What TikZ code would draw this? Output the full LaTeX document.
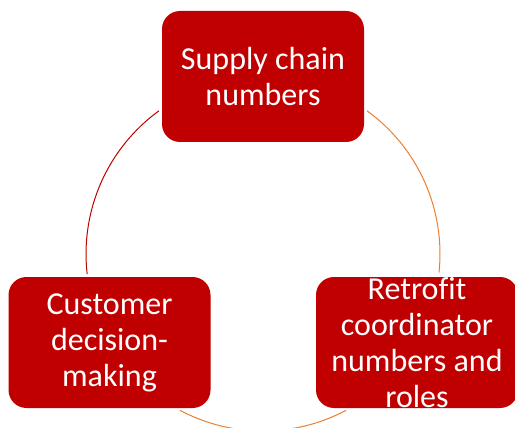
\documentclass[tikz,border=0pt]{standalone}
\usepackage{fontspec}
\setmainfont{Carlito}
\definecolor{boxred}{HTML}{C00000}
\definecolor{ringorange}{HTML}{ED7D31}

\begin{document}
\begin{tikzpicture}[x=1pt,y=1pt,
  cell/.style = {fill=boxred, text=white, align=center, rounded corners=18pt,
    minimum width=202pt, minimum height=131pt, inner xsep=4pt,
    font=\fontsize{32}{36}\selectfont},
  ring/.style = {line width=1pt}]
\useasboundingbox (0,0) rectangle (515,-428);
\coordinate (hub) at (263,-254);
% arcs of the cycle, drawn first so the boxes sit on top
\draw[ring, boxred] ([shift={(126:177)}]hub) arc[start angle=126, end angle=186.5, radius=177];
\draw[ring, ringorange] ([shift={(54:177)}]hub) arc[start angle=54, end angle=-6, radius=177];
\draw[ring, ringorange] ([shift={(-118:177)}]hub) arc[start angle=-118, end angle=-62, radius=177];
% the three stages
\node[cell] (supply) at (263,-76.5) {Supply chain\\numbers};
\node[cell] (customer) at (109.5,-342.5) {Customer\\decision-\\making};
\node[cell, inner ysep=-8pt, font=\fontsize{32}{36}\selectfont\addfontfeatures{Ligatures=CommonOff}] (retrofit) at (417,-342.5) {Retrofit\\coordinator\\numbers and\\roles};
\end{tikzpicture}
\end{document}
